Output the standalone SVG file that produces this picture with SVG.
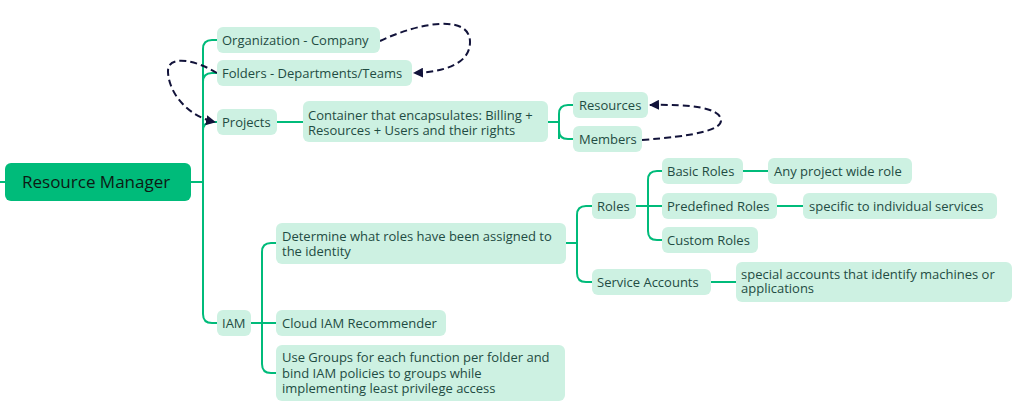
<svg xmlns="http://www.w3.org/2000/svg" width="1030" height="412" viewBox="0 0 1030 412">
<style>
.n rect{fill:#cdf1e2;}
.n text{font-family:"Open Sans","Liberation Sans",sans-serif;font-size:13px;fill:#1f4c43;}
.root rect{fill:#00bb7a;}
.root text{font-family:"Open Sans","Liberation Sans",sans-serif;font-size:17px;fill:#0d1a14;}
.c path{fill:none;stroke:#00bb7a;stroke-width:2;}
.d path{fill:none;stroke:#12133a;stroke-width:2;stroke-dasharray:7,4;}
</style>
<defs>
<marker id="ah" viewBox="0 0 10 10" refX="9" refY="5" markerWidth="5" markerHeight="5" orient="auto" markerUnits="strokeWidth">
<path d="M0,0 L10,5 L0,10 Z" fill="#12133a"/>
</marker>
</defs>
<rect width="1030" height="412" fill="#ffffff"/>
<g id="connectors" class="c">
<path d="M0,182 H5"/>
<path d="M190,182 H203 V49 Q203,40 212,40 H217"/>
<path d="M203,82 Q203,73 212,73 H217"/>
<path d="M203,131 Q203,122 212,122 H217"/>
<path d="M203,182 V314 Q203,323 212,323 H217"/>
<path d="M277,122 H303"/>
<path d="M548,122 H559"/>
<path d="M559,139 V114 Q559,105 568,105 H573"/>
<path d="M559,122 V130 Q559,139 568,139 H573"/>
<path d="M566,243 H577"/>
<path d="M577,243 V215 Q577,206 586,206 H592"/>
<path d="M577,243 V273 Q577,282 586,282 H592"/>
<path d="M636,206 H648"/>
<path d="M648,206 V180 Q648,171 657,171 H662"/>
<path d="M648,206 H662"/>
<path d="M648,206 V231 Q648,240 657,240 H662"/>
<path d="M743,171 H768"/>
<path d="M777,206 H803"/>
<path d="M711,282 H736"/>
<path d="M251,323 H262"/>
<path d="M262,323 V252 Q262,243 271,243 H276"/>
<path d="M262,323 H276"/>
<path d="M262,323 V364 Q262,373 271,373 H276"/>
</g>
<g id="dashed" class="d">
<path d="M380,41 C420,22 470,14 470,42 C470,64 444,72 414,73" marker-end="url(#ah)"/>
<path d="M217,73 C196,60 167,54 168,72 C169,95 190,117 215,122" marker-end="url(#ah)"/>
<path d="M642,140 C695,136 722,130 721,120 C720,108 692,104 650,105" marker-end="url(#ah)"/>
</g>
<g id="root" class="root"><rect x="5" y="163" width="186" height="38" rx="6"/><text x="22" y="188">Resource Manager</text></g>
<g id="org" class="n"><rect x="217" y="27" width="163" height="26" rx="6"/><text x="222" y="44.5">Organization - Company</text></g>
<g id="folders" class="n"><rect x="217" y="60" width="195" height="26" rx="6"/><text x="222" y="77.5">Folders - Departments/Teams</text></g>
<g id="projects" class="n"><rect x="217" y="109" width="60" height="26" rx="6"/><text x="222" y="126.5">Projects</text></g>
<g id="container" class="n"><rect x="303" y="101" width="245" height="41" rx="6"/><text x="308" y="119.5">Container that encapsulates: Billing +</text><text x="308" y="134.5">Resources + Users and their rights</text></g>
<g id="resources" class="n"><rect x="573" y="92" width="75" height="26" rx="6"/><text x="579" y="109.5">Resources</text></g>
<g id="members" class="n"><rect x="573" y="126" width="69" height="26" rx="6"/><text x="579" y="143.5">Members</text></g>
<g id="iam" class="n"><rect x="217" y="310" width="34" height="26" rx="6"/><text x="222" y="327.5">IAM</text></g>
<g id="determine" class="n"><rect x="276" y="223" width="290" height="41" rx="6"/><text x="282" y="240.5">Determine what roles have been assigned to</text><text x="282" y="256">the identity</text></g>
<g id="cloudiam" class="n"><rect x="276" y="310" width="170" height="26" rx="6"/><text x="282" y="327.5">Cloud IAM Recommender</text></g>
<g id="groups" class="n"><rect x="276" y="345" width="289" height="56" rx="6"/><text x="282" y="362">Use Groups for each function per folder and</text><text x="282" y="377.5">bind IAM policies to groups while</text><text x="282" y="392.5">implementing least privilege access</text></g>
<g id="roles" class="n"><rect x="592" y="193" width="44" height="26" rx="6"/><text x="597" y="210.5">Roles</text></g>
<g id="svcacct" class="n"><rect x="592" y="269" width="119" height="26" rx="6"/><text x="597" y="286.5">Service Accounts</text></g>
<g id="special" class="n"><rect x="736" y="262" width="276" height="40" rx="6"/><text x="741" y="278.5">special accounts that identify machines or</text><text x="741" y="293">applications</text></g>
<g id="basic" class="n"><rect x="662" y="158" width="81" height="26" rx="6"/><text x="667" y="175.5">Basic Roles</text></g>
<g id="anyproj" class="n"><rect x="768" y="158" width="144" height="26" rx="6"/><text x="774" y="175.5">Any project wide role</text></g>
<g id="predef" class="n"><rect x="662" y="193" width="115" height="26" rx="6"/><text x="667" y="210.5">Predefined Roles</text></g>
<g id="specific" class="n"><rect x="803" y="193" width="194" height="26" rx="6"/><text x="809" y="210.5">specific to individual services</text></g>
<g id="custom" class="n"><rect x="662" y="227" width="96" height="26" rx="6"/><text x="667" y="244.5">Custom Roles</text></g>
</svg>
